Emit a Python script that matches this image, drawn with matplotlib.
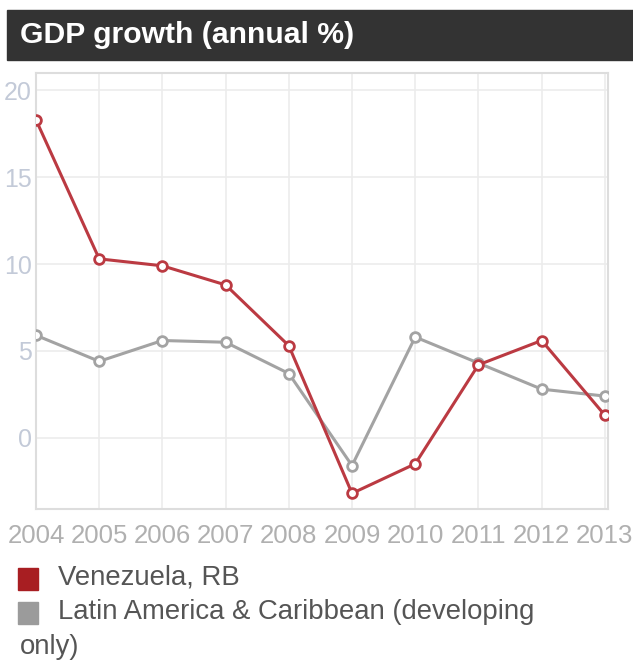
import matplotlib
matplotlib.use("Agg")
import matplotlib.pyplot as plt
from matplotlib.patches import Rectangle
from matplotlib import font_manager

years = [2004, 2005, 2006, 2007, 2008, 2009, 2010, 2011, 2012, 2013]
venezuela = [18.3, 10.3, 9.9, 8.8, 5.3, -3.2, -1.5, 4.2, 5.6, 1.3]
latam = [5.9, 4.4, 5.6, 5.5, 3.7, -1.6, 5.8, 4.3, 2.8, 2.4]
yticks = [0, 5, 10, 15, 20]
title = "GDP growth (annual %)"
legend_labels = ["Venezuela, RB", "Latin America & Caribbean (developing", "only)"]

names = {f.name for f in font_manager.fontManager.ttflist}
narrow = "Liberation Sans Narrow" if "Liberation Sans Narrow" in names else "Liberation Sans"
plt.rcParams['font.family'] = ["Liberation Sans", 'DejaVu Sans']

W, H = 633, 662
fig = plt.figure(figsize=(W / 100, H / 100), dpi=100)

# title bar
fig.patches.append(Rectangle((7 / W, 1 - 60 / H), (633 - 7) / W, 50 / H,
                             transform=fig.transFigure, color="#333333", zorder=0))
fig.text(20 / W, 1 - 35 / H, title, color="white", fontsize=21.7, fontweight="bold",
         va="center", ha="left")

ax = fig.add_axes([36 / W, 1 - 509 / H, (608 - 36) / W, (509 - 73) / H])
red = "#bb3a42"
gray = "#a3a3a3"
ax.plot(years, latam, color=gray, lw=2.2, marker="o", ms=7, mfc="white",
        mec=gray, mew=2, zorder=3)
ax.plot(years, venezuela, color=red, lw=2.2, marker="o", ms=7, mfc="white",
        mec=red, mew=2, zorder=4)
ax.set_xlim(2004, 2013.05)
ax.set_ylim(-4.1, 21)
ax.set_xticks(years)
ax.set_xticklabels([str(y) for y in years], family=[narrow, "DejaVu Sans"])
ax.set_yticks(yticks)
ax.grid(True, color="#ececec", lw=1.2)
ax.set_axisbelow(True)
for s in ax.spines.values():
    s.set_color("#dddddd")
    s.set_linewidth(1.5)
ax.tick_params(length=0)
ax.tick_params(axis="x", colors="#b0b0b0", labelsize=18.5, pad=11)
ax.tick_params(axis="y", colors="#c3cad8", labelsize=18, pad=3)
for lab in ax.get_xticklabels():
    lab.set_clip_on(False)

# legend
fig.patches.append(Rectangle((18 / W, 1 - 590 / H), 20 / W, 22 / H,
                             transform=fig.transFigure, color="#a81e22"))
fig.patches.append(Rectangle((18 / W, 1 - 624 / H), 20 / W, 22 / H,
                             transform=fig.transFigure, color="#9b9b9b"))
fig.text(58 / W, 1 - 578 / H, legend_labels[0], color="#555555", fontsize=19.8, va="center")
fig.text(58 / W, 1 - 612 / H, legend_labels[1], color="#555555", fontsize=19.8, va="center")
fig.text(20 / W, 1 - 647 / H, legend_labels[2], color="#555555", fontsize=19.8, va="center")

fig.savefig("out.png", dpi=100)
